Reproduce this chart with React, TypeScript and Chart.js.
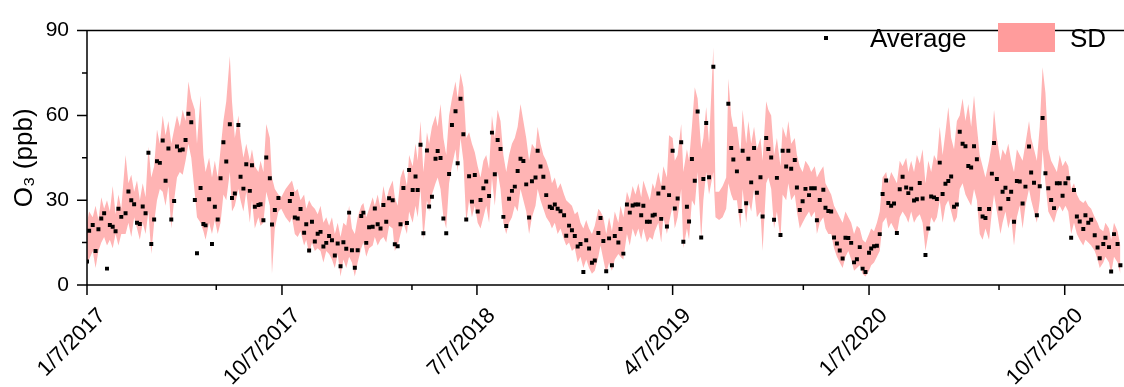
import React, { useEffect, useRef } from "react";
import { Chart, registerables } from "chart.js";

Chart.register(...registerables);

// Days counted from 1/7/2017 (4-day samples)
const avgDays = [
  0,3,8,12,16,20,24,28,32,36,40,44,48,54,58,62,66,70,74,78,82,86,90,94,98,102,106,110,114,118,122,126,130,134,138,142,146,151,154,159,163,166,171,175,179,
  183,187,191,195,200,203,207,212,215,219,223,228,231,235,240,243,247,251,256,259,263,268,284,287,291,295,299,304,307,311,315,319,323,327,331,335,339,343,347,351,355,359,
  363,367,371,375,379,384,387,391,395,400,403,407,411,415,419,423,428,431,435,439,443,448,451,456,460,463,467,471,476,479,483,488,491,495,499,503,507,511,516,519,523,527,531,535,539,543,
  547,551,555,559,563,567,571,575,579,583,587,591,595,599,603,607,611,615,619,623,628,631,635,639,643,648,651,655,659,663,668,671,675,679,683,687,691,695,699,703,707,711,716,719,723,
  727,731,735,739,744,747,751,756,760,764,768,772,776,779,784,788,792,795,800,804,807,812,815,820,823,827,832,835,840,843,847,851,855,860,863,867,871,877,898,902,905,
  910,915,918,923,926,930,934,938,943,946,951,954,958,962,966,971,974,979,982,986,991,994,998,1002,1006,1011,1014,1019,1022,1026,1031,1034,1038,1042,1046,1050,1054,1058,1062,1066,1070,1074,1078,1082,1086,
  1090,1095,1098,1102,1106,1110,1114,1119,1122,1126,1130,1134,1138,1142,1147,1150,1154,1158,1162,1166,1170,1174,1178,1182,1186,1190,1194,1198,1202,1206,1210,1214,1218,1222,1226,1230,1234,1238,1242,1246,1250,1254,1258,1263,1267,1270,
  1274,1279,1282,1286,1290,1294,1298,1302,1306,1310,1314,1319,1322,1326,1330,1334,1338,1342,1346,1350,1354,1358,1362,1366,1370,1374,1378,1382,1386,1390,1395,1398,1402,1406,1411,1415,1418,1423,1426,1431,1434,1438,1443,1447,
];

const avgValues = [
  8.3,19.2,21.2,12.0,19.7,23.5,25.4,5.8,21.2,20.6,19.0,27.0,24.1,25.4,33.1,30.0,28.6,22.0,21.6,27.8,25.4,46.8,14.5,23.2,43.8,43.2,51.1,36.9,48.3,23.2,29.7,49.0,47.7,47.9,51.3,60.6,57.6,30.1,11.2,34.3,21.6,21.1,30.3,14.5,27.7,
  23.2,37.8,50.5,43.7,56.9,30.8,32.4,56.6,38.3,34.1,42.7,33.3,42.4,27.7,28.3,28.6,22.9,45.1,37.8,21.4,26.5,30.8,29.7,32.2,23.9,23.5,26.9,18.5,21.5,12.2,22.4,15.4,18.1,18.8,13.6,14.9,17.3,15.8,10.4,14.7,6.6,15.1,
  12.8,25.6,12.3,6.1,12.3,24.4,25.6,14.9,20.4,20.6,27.1,21.5,20.0,28.3,22.4,30.7,30.0,14.4,13.7,21.5,34.3,21.9,40.7,33.6,38.4,33.6,49.6,18.3,47.6,27.8,31.2,44.7,47.4,44.9,23.5,18.3,39.3,56.6,61.5,43.1,65.9,53.3,23.2,38.5,29.5,38.9,
  26.0,30.1,34.2,36.6,31.5,53.9,39.2,51.3,48.1,24.1,20.9,30.5,33.3,34.8,40.3,44.7,43.9,35.6,23.9,36.7,38.0,47.5,41.9,38.3,31.8,27.7,27.2,28.5,27.0,26.1,24.7,17.4,21.0,19.4,17.3,13.6,14.5,4.6,15.8,12.9,7.9,8.7,18.4,23.7,15.6,
  4.9,16.5,7.0,17.3,15.0,19.8,11.1,28.5,25.6,28.1,28.5,28.5,24.7,28.0,22.4,22.4,24.6,24.9,32.4,23.4,34.4,20.7,31.8,47.5,27.1,30.6,50.5,15.3,27.7,22.5,44.6,36.9,61.4,16.8,37.5,57.3,38.1,77.2,64.1,48.5,44.4,
  40.2,26.2,47.5,28.9,44.7,36.3,48.5,32.6,38.1,24.2,52.0,48.1,45.1,23.1,37.9,17.7,47.5,41.9,47.5,41.1,44.2,34.5,26.5,29.6,34.0,31.8,34.2,34.2,22.9,30.1,33.7,27.3,26.2,26.0,16.8,14.7,12.2,9.4,16.7,16.6,14.9,8.0,9.1,13.4,5.8,
  4.6,11.4,12.9,13.7,13.9,18.0,32.2,37.0,29.0,28.0,28.8,18.4,33.9,38.3,34.5,32.5,34.1,29.9,30.3,36.1,30.6,10.6,20.0,31.3,31.0,30.4,43.3,32.2,35.8,36.8,38.4,27.7,28.5,54.2,50.0,49.1,42.1,41.6,49.1,44.5,26.9,24.2,23.7,26.9,39.4,50.2,
  37.5,27.1,33.0,34.4,30.4,33.0,22.4,36.8,36.6,28.8,34.8,49.0,39.8,36.2,24.7,34.9,59.1,39.5,34.2,30.1,27.2,36.0,36.0,31.6,36.0,37.8,16.7,33.6,24.2,22.5,19.8,24.7,22.0,23.1,17.6,13.3,9.5,14.5,16.7,13.4,4.8,18.0,14.5,7.0,
];

// SD band: upper and lower edges at the same days
const sdUpper = [
  22,26,24,28,23,31,27,30,26,35,25,32,27,46,36,39,33,37,30,36,31,49,38,42,55,50,60,53,58,50,55,60,56,62,58,72,66,62,50,67,46,40,45,38,44,
  38,48,58,65,81,65,52,60,52,45,50,44,48,42,40,44,40,57,52,38,34,32,36,37,33,34,30,32,27,30,28,27,25,28,22,24,21,24,18,22,17,22,
  21,28,20,18,24,28,29,24,27,31,28,32,27,35,30,34,37,31,28,38,41,35,46,42,50,44,58,40,54,50,56,60,56,64,52,46,60,66,72,66,75,70,52,54,50,47,
  42,38,44,46,41,60,52,62,58,46,40,46,50,52,56,64,58,52,44,50,48,56,50,46,44,40,36,38,34,36,32,30,29,28,25,26,22,20,23,20,18,21,27,26,24,
  18,24,19,26,22,28,24,33,30,35,32,36,31,37,33,30,36,34,40,35,42,38,53,52,44,46,57,40,48,44,56,70,66,48,52,63,50,84,73,60,56,
  56,46,62,50,58,50,56,48,52,44,65,62,60,46,52,42,56,52,58,50,52,46,42,40,44,42,40,42,38,40,42,36,34,32,28,26,24,22,26,24,22,18,21,20,16,
  15,18,20,19,22,26,38,40,36,40,38,36,44,42,45,40,44,40,46,43,48,36,44,40,46,44,56,46,54,63,52,48,58,60,66,58,64,56,67,56,46,42,38,44,50,62,
  52,44,48,46,50,44,40,48,46,44,50,58,52,48,44,56,77,68,48,44,42,40,46,42,44,42,34,36,32,30,29,30,28,27,24,22,20,19,22,20,16,22,19,14,
];

const sdLower = [
  7,9,12,6,12,15,17,14,16,13,18,14,18,18,22,17,24,20,16,22,18,26,11,22,30,34,33,28,35,20,30,38,40,39,44,50,45,32,24,22,19,16,22,18,23,
  18,22,32,30,40,26,28,34,30,26,33,22,30,20,24,21,22,33,28,4,20,26,22,24,18,17,19,14,16,11,15,12,13,12,8,12,11,9,6,11,3,9,
  6,10,8,3,8,13,15,10,13,14,17,14,16,17,15,21,20,12,14,18,22,18,26,22,28,24,34,16,30,26,32,36,38,34,24,20,36,42,48,40,52,44,22,30,24,28,
  22,20,24,28,22,38,28,40,34,22,18,22,24,28,26,34,30,26,18,24,28,34,30,27,24,22,20,22,18,20,16,14,15,12,13,8,10,6,9,6,4,5,10,14,9,
  4,8,5,9,11,10,9,18,14,20,17,20,16,20,15,17,16,19,22,15,24,18,22,28,20,24,34,13,20,16,30,28,40,16,30,40,32,40,36,32,30,
  30,20,34,22,30,26,34,24,26,12,36,38,34,20,26,16,32,30,36,30,32,26,20,22,24,26,24,26,18,22,24,20,18,18,13,10,8,6,10,12,9,5,6,7,4,
  3,5,7,8,10,12,22,24,20,22,20,18,24,26,24,22,26,22,24,25,22,12,18,24,22,24,30,22,28,30,26,22,24,34,36,32,30,28,34,30,18,16,20,16,26,32,
  26,18,22,26,20,24,14,24,28,20,28,34,30,26,22,30,48,36,26,24,22,26,28,26,28,26,18,22,18,16,14,16,15,14,12,9,6,8,10,8,4,10,8,4,
];

// SD band inside the two data gaps (no averages there)
const gapDays = [272, 278, 880, 885, 890, 895];
const gapUpper = [31, 34, 33, 33, 35, 38];
const gapLower = [27, 24, 24, 23, 24, 27];

const xMajorDays = [0, 273, 546, 820, 1095, 1369];
const xMajorLabels = ["1/7/2017", "10/7/2017", "7/7/2018", "4/7/2019", "1/7/2020", "10/7/2020"];
const xMinorDays = [181, 455, 730, 1003, 1277];
const yMajor = [0, 30, 60, 90];
const yMinor = [15, 45, 75];
const X_MAX = 1452;

const FONT = "'Liberation Sans', Arial, Helvetica, sans-serif";
const BAND_COLOR = "#FFB4B4";

export default function App() {
  const ref = useRef<HTMLCanvasElement | null>(null);

  useEffect(() => {
    if (!ref.current) return;
    const band = avgDays
      .map((d, i) => ({ d, hi: sdUpper[i], lo: sdLower[i] }))
      .concat(gapDays.map((d, i) => ({ d, hi: gapUpper[i], lo: gapLower[i] })))
      .sort((a, b) => a.d - b.d);

    const frame = {
      id: "frame",
      afterDraw(chart: any) {
        const { ctx, chartArea: a, scales } = chart;
        const x = scales.x;
        const y = scales.y;
        ctx.save();
        ctx.strokeStyle = "#000";
        ctx.lineWidth = 1.5;
        ctx.beginPath();
        ctx.moveTo(a.left, a.top);
        ctx.lineTo(a.right, a.top);
        ctx.moveTo(a.left, a.top);
        ctx.lineTo(a.left, a.bottom);
        ctx.lineTo(a.right, a.bottom);
        for (const v of yMajor) {
          const p = y.getPixelForValue(v);
          ctx.moveTo(a.left, p);
          ctx.lineTo(a.left - 10, p);
        }
        for (const v of yMinor) {
          const p = y.getPixelForValue(v);
          ctx.moveTo(a.left, p);
          ctx.lineTo(a.left - 5, p);
        }
        for (const v of xMajorDays) {
          const p = x.getPixelForValue(v);
          ctx.moveTo(p, a.bottom);
          ctx.lineTo(p, a.bottom + 10);
        }
        for (const v of xMinorDays) {
          const p = x.getPixelForValue(v);
          ctx.moveTo(p, a.bottom);
          ctx.lineTo(p, a.bottom + 5);
        }
        ctx.stroke();

        // legend
        ctx.fillStyle = "#000";
        ctx.fillRect(824, 36, 4, 4);
        ctx.font = `26px ${FONT}`;
        ctx.textAlign = "left";
        ctx.textBaseline = "alphabetic";
        ctx.fillText("Average", 870, 46.5);
        ctx.fillStyle = "#FF9C9C";
        ctx.fillRect(998, 23, 57, 29);
        ctx.fillStyle = "#000";
        ctx.fillText("SD", 1070, 46.5);
        ctx.restore();
      },
    };

    const chart = new Chart(ref.current, {
      type: "line",
      data: {
        datasets: [
          {
            label: "Average",
            data: avgDays.map((d, i) => ({ x: d, y: avgValues[i] })),
            showLine: false,
            pointStyle: "rect",
            pointRadius: 2.8,
            pointBackgroundColor: "#000",
            pointBorderWidth: 0,
            borderColor: "#000",
            borderWidth: 0,
            fill: false,
          },
          {
            label: "SD",
            data: band.map((b) => ({ x: b.d, y: b.hi })),
            fill: "+1",
            backgroundColor: BAND_COLOR,
            borderColor: "rgba(0,0,0,0)",
            borderWidth: 0,
            pointRadius: 0,
            tension: 0,
          },
          {
            label: "SD lower",
            data: band.map((b) => ({ x: b.d, y: b.lo })),
            fill: false,
            borderColor: "rgba(0,0,0,0)",
            borderWidth: 0,
            pointRadius: 0,
            tension: 0,
          },
        ],
      },
      options: {
        responsive: false,
        animation: false,
        events: [],
        layout: { padding: { top: 18, left: 0, right: 0, bottom: 0 }, autoPadding: false },
        plugins: { legend: { display: false }, tooltip: { enabled: false } },
        scales: {
          x: {
            type: "linear",
            min: 0,
            max: X_MAX,
            grid: { display: false, drawTicks: false },
            border: { display: false },
            afterBuildTicks: (s: any) => {
              s.ticks = xMajorDays.map((v) => ({ value: v }));
            },
            afterFit: (s: any) => {
              s.height = 102;
            },
            ticks: {
              autoSkip: false,
              maxRotation: 45,
              minRotation: 45,
              padding: 18,
              labelOffset: 15,
              color: "#000",
              font: { family: FONT, size: 22 },
              callback: (v: any) => {
                const i = xMajorDays.indexOf(Number(v));
                return i >= 0 ? xMajorLabels[i] : "";
              },
            },
          },
          y: {
            type: "linear",
            min: 0,
            max: 90,
            grid: { display: false, drawTicks: false },
            border: { display: false },
            afterBuildTicks: (s: any) => {
              s.ticks = yMajor.map((v) => ({ value: v }));
            },
            afterFit: (s: any) => {
              s.width = 87;
            },
            ticks: {
              padding: 18,
              color: "#000",
              font: { family: FONT, size: 21 },
            },
            title: {
              display: true,
              text: "O₃ (ppb)",
              color: "#000",
              font: { family: FONT, size: 26 },
              padding: { top: 9, bottom: 0 },
            },
          },
        },
      },
      plugins: [frame],
    } as any);

    return () => chart.destroy();
  }, []);

  return (
    <div style={{ position: "fixed", left: 0, top: 0, width: 1124, height: 387, background: "#fff" }}>
      <canvas ref={ref} width={1124} height={387} style={{ display: "block" }} />
    </div>
  );
}
